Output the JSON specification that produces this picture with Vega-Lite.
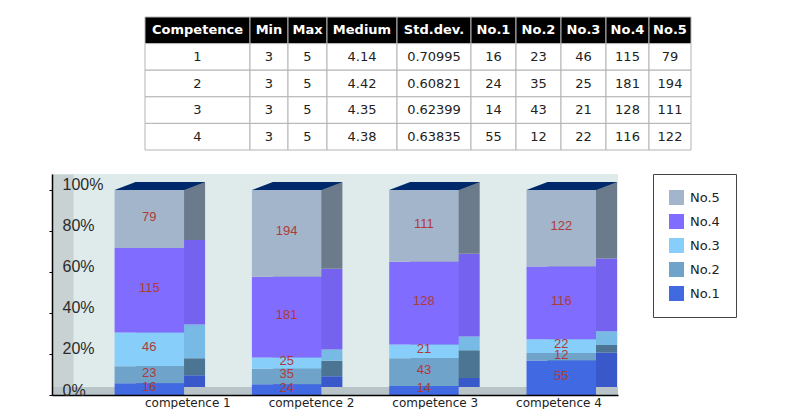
{
  "$schema": "https://vega.github.io/schema/vega-lite/v6.json",
  "background": "white",
  "padding": {"left": 48, "top": 16, "right": 5, "bottom": 0},
  "config": {"view": {"stroke": null}, "font": "DejaVu Sans"},
  "resolve": {"scale": {"color": "independent", "fill": "independent"}, "legend": {"color": "independent", "fill": "independent"}},
  "datasets": {
    "table": [
      {"row": "h", "comp": "Competence", "min": "Min", "max": "Max", "med": "Medium", "std": "Std.dev.", "n1": "No.1", "n2": "No.2", "n3": "No.3", "n4": "No.4", "n5": "No.5"},
      {"row": "1", "comp": "1", "min": "3", "max": "5", "med": "4.14", "std": "0.70995", "n1": "16", "n2": "23", "n3": "46", "n4": "115", "n5": "79"},
      {"row": "2", "comp": "2", "min": "3", "max": "5", "med": "4.42", "std": "0.60821", "n1": "24", "n2": "35", "n3": "25", "n4": "181", "n5": "194"},
      {"row": "3", "comp": "3", "min": "3", "max": "5", "med": "4.35", "std": "0.62399", "n1": "14", "n2": "43", "n3": "21", "n4": "128", "n5": "111"},
      {"row": "4", "comp": "4", "min": "3", "max": "5", "med": "4.38", "std": "0.63835", "n1": "55", "n2": "12", "n3": "22", "n4": "116", "n5": "122"}
    ],
    "scores": [
      {"competence": "competence 1", "level": "No.1", "count": 16},
      {"competence": "competence 1", "level": "No.2", "count": 23},
      {"competence": "competence 1", "level": "No.3", "count": 46},
      {"competence": "competence 1", "level": "No.4", "count": 115},
      {"competence": "competence 1", "level": "No.5", "count": 79},
      {"competence": "competence 2", "level": "No.1", "count": 24},
      {"competence": "competence 2", "level": "No.2", "count": 35},
      {"competence": "competence 2", "level": "No.3", "count": 25},
      {"competence": "competence 2", "level": "No.4", "count": 181},
      {"competence": "competence 2", "level": "No.5", "count": 194},
      {"competence": "competence 3", "level": "No.1", "count": 14},
      {"competence": "competence 3", "level": "No.2", "count": 43},
      {"competence": "competence 3", "level": "No.3", "count": 21},
      {"competence": "competence 3", "level": "No.4", "count": 128},
      {"competence": "competence 3", "level": "No.5", "count": 111},
      {"competence": "competence 4", "level": "No.1", "count": 55},
      {"competence": "competence 4", "level": "No.2", "count": 12},
      {"competence": "competence 4", "level": "No.3", "count": 22},
      {"competence": "competence 4", "level": "No.4", "count": 116},
      {"competence": "competence 4", "level": "No.5", "count": 122}
    ]
  },
  "spacing": 22,
  "vconcat": [
    {
      "spacing": 0,
      "bounds": "flush",
      "hconcat": [
        {"width": 93, "height": 133, "data": {"values": []}, "mark": "point"},
        {"width": 105, "height": 133, "data": {"name": "table"},
          "encoding": {"y": {"field": "row", "type": "nominal", "axis": null, "scale": {"domain": ["h", "1", "2", "3", "4"], "paddingInner": 0, "paddingOuter": 0}}},
          "layer": [
            {"mark": {"type": "rect", "stroke": "#b4b4b4", "strokeWidth": 1}, "encoding": {"fill": {"condition": {"test": "datum.row === 'h'", "value": "#000000"}, "value": "#ffffff"}}},
            {"transform": [{"filter": "datum.row === 'h'"}], "mark": {"type": "text", "fontWeight": "bold", "fontSize": 13, "color": "#ffffff"}, "encoding": {"text": {"field": "comp"}}},
            {"transform": [{"filter": "datum.row !== 'h'"}], "mark": {"type": "text", "fontSize": 13, "color": "#222222"}, "encoding": {"text": {"field": "comp"}}}
          ]},
        {"width": 38, "height": 133, "data": {"name": "table"},
          "encoding": {"y": {"field": "row", "type": "nominal", "axis": null, "scale": {"domain": ["h", "1", "2", "3", "4"], "paddingInner": 0, "paddingOuter": 0}}},
          "layer": [
            {"mark": {"type": "rect", "stroke": "#b4b4b4", "strokeWidth": 1}, "encoding": {"fill": {"condition": {"test": "datum.row === 'h'", "value": "#000000"}, "value": "#ffffff"}}},
            {"transform": [{"filter": "datum.row === 'h'"}], "mark": {"type": "text", "fontWeight": "bold", "fontSize": 13, "color": "#ffffff"}, "encoding": {"text": {"field": "min"}}},
            {"transform": [{"filter": "datum.row !== 'h'"}], "mark": {"type": "text", "fontSize": 13, "color": "#222222"}, "encoding": {"text": {"field": "min"}}}
          ]},
        {"width": 39, "height": 133, "data": {"name": "table"},
          "encoding": {"y": {"field": "row", "type": "nominal", "axis": null, "scale": {"domain": ["h", "1", "2", "3", "4"], "paddingInner": 0, "paddingOuter": 0}}},
          "layer": [
            {"mark": {"type": "rect", "stroke": "#b4b4b4", "strokeWidth": 1}, "encoding": {"fill": {"condition": {"test": "datum.row === 'h'", "value": "#000000"}, "value": "#ffffff"}}},
            {"transform": [{"filter": "datum.row === 'h'"}], "mark": {"type": "text", "fontWeight": "bold", "fontSize": 13, "color": "#ffffff"}, "encoding": {"text": {"field": "max"}}},
            {"transform": [{"filter": "datum.row !== 'h'"}], "mark": {"type": "text", "fontSize": 13, "color": "#222222"}, "encoding": {"text": {"field": "max"}}}
          ]},
        {"width": 70, "height": 133, "data": {"name": "table"},
          "encoding": {"y": {"field": "row", "type": "nominal", "axis": null, "scale": {"domain": ["h", "1", "2", "3", "4"], "paddingInner": 0, "paddingOuter": 0}}},
          "layer": [
            {"mark": {"type": "rect", "stroke": "#b4b4b4", "strokeWidth": 1}, "encoding": {"fill": {"condition": {"test": "datum.row === 'h'", "value": "#000000"}, "value": "#ffffff"}}},
            {"transform": [{"filter": "datum.row === 'h'"}], "mark": {"type": "text", "fontWeight": "bold", "fontSize": 13, "color": "#ffffff"}, "encoding": {"text": {"field": "med"}}},
            {"transform": [{"filter": "datum.row !== 'h'"}], "mark": {"type": "text", "fontSize": 13, "color": "#222222"}, "encoding": {"text": {"field": "med"}}}
          ]},
        {"width": 74, "height": 133, "data": {"name": "table"},
          "encoding": {"y": {"field": "row", "type": "nominal", "axis": null, "scale": {"domain": ["h", "1", "2", "3", "4"], "paddingInner": 0, "paddingOuter": 0}}},
          "layer": [
            {"mark": {"type": "rect", "stroke": "#b4b4b4", "strokeWidth": 1}, "encoding": {"fill": {"condition": {"test": "datum.row === 'h'", "value": "#000000"}, "value": "#ffffff"}}},
            {"transform": [{"filter": "datum.row === 'h'"}], "mark": {"type": "text", "fontWeight": "bold", "fontSize": 13, "color": "#ffffff"}, "encoding": {"text": {"field": "std"}}},
            {"transform": [{"filter": "datum.row !== 'h'"}], "mark": {"type": "text", "fontSize": 13, "color": "#222222"}, "encoding": {"text": {"field": "std"}}}
          ]},
        {"width": 45, "height": 133, "data": {"name": "table"},
          "encoding": {"y": {"field": "row", "type": "nominal", "axis": null, "scale": {"domain": ["h", "1", "2", "3", "4"], "paddingInner": 0, "paddingOuter": 0}}},
          "layer": [
            {"mark": {"type": "rect", "stroke": "#b4b4b4", "strokeWidth": 1}, "encoding": {"fill": {"condition": {"test": "datum.row === 'h'", "value": "#000000"}, "value": "#ffffff"}}},
            {"transform": [{"filter": "datum.row === 'h'"}], "mark": {"type": "text", "fontWeight": "bold", "fontSize": 13, "color": "#ffffff"}, "encoding": {"text": {"field": "n1"}}},
            {"transform": [{"filter": "datum.row !== 'h'"}], "mark": {"type": "text", "fontSize": 13, "color": "#222222"}, "encoding": {"text": {"field": "n1"}}}
          ]},
        {"width": 45, "height": 133, "data": {"name": "table"},
          "encoding": {"y": {"field": "row", "type": "nominal", "axis": null, "scale": {"domain": ["h", "1", "2", "3", "4"], "paddingInner": 0, "paddingOuter": 0}}},
          "layer": [
            {"mark": {"type": "rect", "stroke": "#b4b4b4", "strokeWidth": 1}, "encoding": {"fill": {"condition": {"test": "datum.row === 'h'", "value": "#000000"}, "value": "#ffffff"}}},
            {"transform": [{"filter": "datum.row === 'h'"}], "mark": {"type": "text", "fontWeight": "bold", "fontSize": 13, "color": "#ffffff"}, "encoding": {"text": {"field": "n2"}}},
            {"transform": [{"filter": "datum.row !== 'h'"}], "mark": {"type": "text", "fontSize": 13, "color": "#222222"}, "encoding": {"text": {"field": "n2"}}}
          ]},
        {"width": 45, "height": 133, "data": {"name": "table"},
          "encoding": {"y": {"field": "row", "type": "nominal", "axis": null, "scale": {"domain": ["h", "1", "2", "3", "4"], "paddingInner": 0, "paddingOuter": 0}}},
          "layer": [
            {"mark": {"type": "rect", "stroke": "#b4b4b4", "strokeWidth": 1}, "encoding": {"fill": {"condition": {"test": "datum.row === 'h'", "value": "#000000"}, "value": "#ffffff"}}},
            {"transform": [{"filter": "datum.row === 'h'"}], "mark": {"type": "text", "fontWeight": "bold", "fontSize": 13, "color": "#ffffff"}, "encoding": {"text": {"field": "n3"}}},
            {"transform": [{"filter": "datum.row !== 'h'"}], "mark": {"type": "text", "fontSize": 13, "color": "#222222"}, "encoding": {"text": {"field": "n3"}}}
          ]},
        {"width": 43, "height": 133, "data": {"name": "table"},
          "encoding": {"y": {"field": "row", "type": "nominal", "axis": null, "scale": {"domain": ["h", "1", "2", "3", "4"], "paddingInner": 0, "paddingOuter": 0}}},
          "layer": [
            {"mark": {"type": "rect", "stroke": "#b4b4b4", "strokeWidth": 1}, "encoding": {"fill": {"condition": {"test": "datum.row === 'h'", "value": "#000000"}, "value": "#ffffff"}}},
            {"transform": [{"filter": "datum.row === 'h'"}], "mark": {"type": "text", "fontWeight": "bold", "fontSize": 13, "color": "#ffffff"}, "encoding": {"text": {"field": "n4"}}},
            {"transform": [{"filter": "datum.row !== 'h'"}], "mark": {"type": "text", "fontSize": 13, "color": "#222222"}, "encoding": {"text": {"field": "n4"}}}
          ]},
        {"width": 42, "height": 133, "data": {"name": "table"},
          "encoding": {"y": {"field": "row", "type": "nominal", "axis": null, "scale": {"domain": ["h", "1", "2", "3", "4"], "paddingInner": 0, "paddingOuter": 0}}},
          "layer": [
            {"mark": {"type": "rect", "stroke": "#b4b4b4", "strokeWidth": 1}, "encoding": {"fill": {"condition": {"test": "datum.row === 'h'", "value": "#000000"}, "value": "#ffffff"}}},
            {"transform": [{"filter": "datum.row === 'h'"}], "mark": {"type": "text", "fontWeight": "bold", "fontSize": 13, "color": "#ffffff"}, "encoding": {"text": {"field": "n5"}}},
            {"transform": [{"filter": "datum.row !== 'h'"}], "mark": {"type": "text", "fontSize": 13, "color": "#222222"}, "encoding": {"text": {"field": "n5"}}}
          ]}
      ]
    },
    {
      "width": 566,
      "height": 221,
      "view": {"fill": "#dfebeb", "stroke": null},
      "resolve": {"scale": {"x": "independent", "y": "independent"}},
      "layer": [
        {
          "data": {"name": "scores"},
          "layer": [
            {
              "data": {"values": [{}]},
              "mark": {"type": "rect", "color": "#b8c4c8"},
              "encoding": {
                "y": {"datum": 0, "type": "quantitative"},
                "y2": {"datum": 0.039}
              }
            },
            {
              "mark": {"type": "bar", "xOffset": 21, "yOffset": -8},
              "encoding": {
                "x": {"field": "competence", "type": "nominal"},
                "y": {"field": "count", "type": "quantitative", "stack": "normalize"},
                "fill": {"field": "level", "type": "nominal", "legend": null,
                  "scale": {"domain": ["No.1", "No.2", "No.3", "No.4", "No.5"], "range": ["#3959cb", "#4b7592", "#76bae5", "#7562ee", "#6b7b8c"]}},
                "order": {"field": "level", "sort": "ascending"}
              }
            },
            {
              "mark": {"type": "bar"},
              "encoding": {
                "x": {"field": "competence", "type": "nominal",
                  "scale": {"paddingInner": 0.494, "paddingOuter": 0.308, "align": 0.74},
                  "axis": {"orient": "bottom", "title": null, "labels": false, "ticks": false, "grid": false, "domain": true, "domainColor": "#000000", "domainWidth": 1.5, "zindex": 1}},
                "y": {"field": "count", "type": "quantitative", "stack": "normalize",
                  "scale": {"domain": [0, 1.078], "nice": false, "zero": true},
                  "axis": {"orient": "left", "values": [0, 0.2, 0.4, 0.6, 0.8, 1], "format": ".0%", "title": null, "grid": false,
                    "domain": true, "domainColor": "#000000", "domainWidth": 1.5,
                    "ticks": true, "tickColor": "#000000", "tickSize": 3,
                    "labelAlign": "left", "labelBaseline": "alphabetic", "labelPadding": -13,
                    "labelFont": "Liberation Sans", "labelFontSize": 16, "labelColor": "#2b2b2b", "zindex": 1}},
                "color": {"field": "level", "type": "nominal",
                  "scale": {"domain": ["No.5", "No.4", "No.3", "No.2", "No.1"], "range": ["#a3b5ca", "#806cff", "#87cefa", "#6fa3c9", "#4169e1"]},
                  "legend": {"title": null, "orient": "right", "offset": 35, "padding": 16, "strokeColor": "#444444", "fillColor": "#ffffff",
                    "symbolType": "square", "symbolSize": 225, "symbolStrokeWidth": 0, "rowPadding": 9,
                    "labelFont": "DejaVu Sans", "labelFontSize": 13, "labelColor": "#222222", "labelOffset": 6}},
                "order": {"field": "level", "sort": "ascending"}
              }
            },
            {
              "transform": [{"filter": "datum.level === 'No.1'"}],
              "mark": {"type": "point", "shape": "M -1 0 L 1 0 L 1.604 -0.23 L -0.396 -0.23 Z", "size": 4830, "filled": true, "color": "#00296b", "opacity": 1, "strokeWidth": 0},
              "encoding": {
                "x": {"field": "competence", "type": "nominal"},
                "y": {"datum": 1, "type": "quantitative"}
              }
            },
            {
              "mark": {"type": "text", "font": "Liberation Sans", "fontSize": 13, "color": "#b03a3a", "dy": -2},
              "encoding": {
                "x": {"field": "competence", "type": "nominal"},
                "y": {"field": "count", "type": "quantitative", "stack": "normalize", "bandPosition": 0.5},
                "detail": {"field": "level"},
                "order": {"field": "level", "sort": "ascending"},
                "text": {"field": "count", "type": "quantitative"}
              }
            }
          ]
        },
        {
          "data": {"name": "scores"},
          "transform": [{"filter": "datum.level === 'No.1'"}],
          "mark": {"type": "text", "font": "DejaVu Sans", "fontSize": 12, "color": "#222222", "baseline": "middle", "dy": 8},
          "encoding": {
            "x": {"field": "competence", "type": "nominal", "scale": {"type": "point", "padding": 0.788, "align": 0.697}, "axis": null},
            "y": {"datum": 0, "type": "quantitative", "scale": {"domain": [0, 1.078], "nice": false},
              "axis": {"orient": "left", "offset": -10.5, "domainWidth": 21, "domainColor": "#c8d2d2", "labels": false, "ticks": false, "grid": false, "title": null}},
            "text": {"field": "competence"}
          }
        }
      ]
    }
  ]
}
